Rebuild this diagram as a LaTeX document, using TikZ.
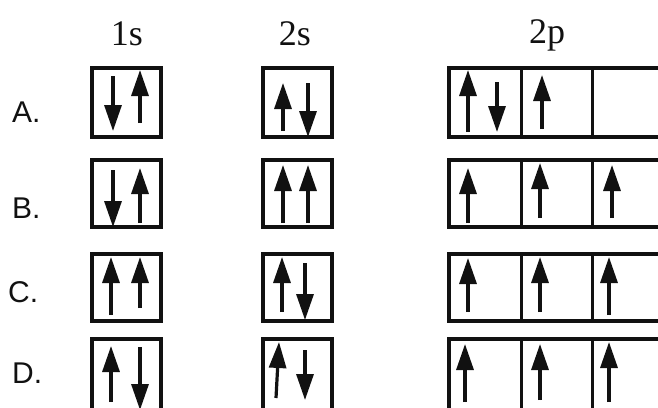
\documentclass[tikz,border=0pt]{standalone}
\usepackage{fontspec}
\usepackage{xcolor}
\usepackage{tikz}
\usetikzlibrary{arrows.meta}
\newfontfamily\optfont{Liberation Sans}
\newfontfamily\orbfont{Liberation Serif}
\definecolor{oink}{HTML}{111111}
\tikzset{
  orbbox/.style={draw=oink,line width=3.8pt},
  cellsep/.style={draw=oink,line width=3pt},
  spin/.style={-{Triangle[length=26pt,width=17pt]},line width=3.2pt,draw=oink,fill=oink},
  optlabel/.style={anchor=base west,inner sep=0pt,text=oink,
                   font=\optfont\fontsize{30}{34}\selectfont},
  orblabel/.style={anchor=base,inner sep=0pt,text=oink,
                   font=\orbfont\fontsize{36}{40}\selectfont},
}

\begin{document}
\begin{tikzpicture}[x=1pt,y=-1pt]
\useasboundingbox (0,0) rectangle (658,407);
\clip (0,0) rectangle (658,407);
% headings
\node[orblabel] (h1s) at (127,45) {1s};
\node[orblabel] (h2s) at (295,45) {2s};
\node[orblabel] (h2p) at (547,43) {2p};
% option letters
\node[optlabel] (optA) at (12,122) {A.};
\node[optlabel] (optB) at (12,218) {B.};
\node[optlabel] (optC) at (8,302) {C.};
\node[optlabel] (optD) at (12,383) {D.};
% orbital boxes, one row per option
\foreach \yt/\yb in {68/137,160/227,254/321,339/410}{
  \draw[orbbox] (92,\yt) rectangle (161,\yb);
  \draw[orbbox] (263,\yt) rectangle (332,\yb);
  \draw[orbbox] (449,\yt) rectangle (664,\yb);
  \draw[cellsep] (521,\yt) -- (521,\yb);
  \draw[cellsep] (592,\yt) -- (592,\yb);
}
% A
\draw[spin] (113,76) -- (113,131);
\draw[spin] (140,123) -- (140,70);
\draw[spin] (283,131) -- (283,83);
\draw[spin] (308,83) -- (308,137);
\draw[spin] (468,132) -- (468,70);
\draw[spin] (497,82) -- (497,132);
\draw[spin] (542,129) -- (542,75);
% B
\draw[spin] (113,170) -- (113,227);
\draw[spin] (140,223) -- (140,168);
\draw[spin] (283,223) -- (283,165);
\draw[spin] (308,223) -- (308,165);
\draw[spin] (468,223) -- (468,168);
\draw[spin] (540,218) -- (540,163);
\draw[spin] (612,218) -- (612,165);
% C
\draw[spin] (111,315) -- (111,257);
\draw[spin] (140,308) -- (140,257);
\draw[spin] (282,312) -- (282,257);
\draw[spin] (305,263) -- (305,320);
\draw[spin] (468,312) -- (468,258);
\draw[spin] (540,312) -- (540,257);
\draw[spin] (609,315) -- (609,257);
% D
\draw[spin] (111,402) -- (111,346);
\draw[spin] (140,347) -- (140,410);
\draw[spin] (276,398) -- (279,342);
\draw[spin] (305,350) -- (305,400);
\draw[spin] (465,402) -- (465,344);
\draw[spin] (540,400) -- (540,344);
\draw[spin] (609,402) -- (609,342);
\end{tikzpicture}
\end{document}
